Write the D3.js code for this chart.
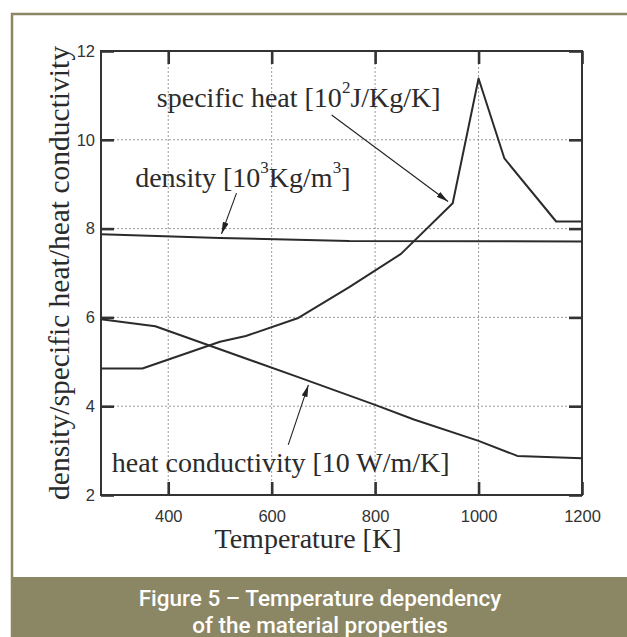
<!DOCTYPE html>
<html>
<head>
<meta charset="utf-8">
<script src="https://cdn.jsdelivr.net/npm/d3@7"></script>
<style>
  body { margin: 0; background: #fff; }
</style>
</head>
<body>
<div id="chart"></div>
<script>
// values
var densityT = [270, 500, 750, 1200];
var densityV = [7.87, 7.79, 7.72, 7.71];

var heatT = [270, 350, 500, 550, 650, 750, 850, 950, 1000, 1050, 1150, 1200];
var heatV = [4.85, 4.85, 5.45, 5.58, 5.98, 6.68, 7.43, 8.57, 11.38, 9.58, 8.16, 8.16];

var condT = [270, 375, 650, 800, 875, 1000, 1075, 1200];
var condV = [5.96, 5.80, 4.66, 4.03, 3.70, 3.22, 2.88, 2.83];

var xTicks = [400, 600, 800, 1000, 1200];
var yTicks = [2, 4, 6, 8, 10, 12];
var xGrid = [400, 600, 800, 1000];
var yGrid = [4, 6, 8, 10];

var captionLines = ["Figure 5 \u2013 Temperature dependency", "of the material properties"];

// label text pieces: [text, isSuperscript]
var labelSpecific = [["specific heat [10", 0], ["2", 1], ["J/Kg/K]", 0]];
var labelDensity = [["density [10", 0], ["3", 1], ["Kg/m", 0], ["3", 1], ["]", 0]];
var labelCond = [["heat conductivity [10 W/m/K]", 0]];

// label anchor and arrow (tail -> tip) in data units
var annotations = [
  {parts: labelSpecific, at: [378, 10.74], from: [716, 10.56], to: [941, 8.61]},
  {parts: labelDensity, at: [336, 8.94], from: [532, 8.80], to: [503, 7.88]},
  {parts: labelCond, at: [291, 2.51], from: [632, 3.13], to: [671, 4.48]}
];

var width = 627, height = 637;
var plotLeft = 101, plotRight = 582, plotTop = 51, plotBottom = 495;
var ink = "#333";
var serif = "'Liberation Serif', 'Times New Roman', serif";

var svg = d3.select("#chart")
    .append("svg")
    .attr("width", width)
    .attr("height", height);

var x = d3.scaleLinear().domain([270, 1200]).range([plotLeft, plotRight]);
var y = d3.scaleLinear().domain([2, 12]).range([plotBottom, plotTop]);

// page frame and caption band
svg.append("path")
    .attr("d", "M12," + height + "V14H" + width)
    .attr("fill", "none")
    .attr("stroke", "#8b8663")
    .attr("stroke-width", 2.5);

svg.append("rect")
    .attr("x", 11).attr("y", 577)
    .attr("width", width - 11).attr("height", height - 577)
    .attr("fill", "#8b8663");

svg.selectAll(".caption")
    .data(captionLines)
    .enter()
    .append("text")
    .attr("class", "caption")
    .attr("x", 320)
    .attr("y", function(d, i) { return 606 + i * 27; })
    .attr("text-anchor", "middle")
    .attr("font-family", "Roboto, sans-serif")
    .attr("font-weight", 500)
    .attr("font-size", 22.5)
    .attr("fill", "#fff")
    .text(function(d) { return d; });

// grid
var grid = svg.append("g")
    .attr("stroke", "#9a9a9a")
    .attr("stroke-width", 1)
    .attr("stroke-dasharray", "2,2");

grid.selectAll(".vg")
    .data(xGrid)
    .enter()
    .append("line")
    .attr("x1", function(d) { return x(d); })
    .attr("x2", function(d) { return x(d); })
    .attr("y1", plotTop).attr("y2", plotBottom);

grid.selectAll(".hg")
    .data(yGrid)
    .enter()
    .append("line")
    .attr("y1", function(d) { return y(d); })
    .attr("y2", function(d) { return y(d); })
    .attr("x1", plotLeft).attr("x2", plotRight);

// axes on all four sides, ticks pointing inward
function styleAxis(g) {
  g.select(".domain").remove();
  g.selectAll(".tick line").attr("stroke", ink).attr("stroke-width", 2.6);
  g.selectAll(".tick text")
      .attr("fill", ink)
      .attr("font-family", "'Liberation Sans', Arial, sans-serif")
      .attr("font-size", 16.5);
}

svg.append("g")
    .attr("transform", "translate(0," + plotBottom + ")")
    .call(d3.axisBottom(x).tickValues(xTicks).tickFormat(d3.format("d"))
        .tickSizeInner(-13).tickPadding(15))
    .call(styleAxis);

svg.append("g")
    .attr("transform", "translate(0," + plotTop + ")")
    .call(d3.axisTop(x).tickValues(xTicks).tickSizeInner(-13).tickFormat(""))
    .call(styleAxis);

svg.append("g")
    .attr("transform", "translate(" + plotLeft + ",0)")
    .call(d3.axisLeft(y).tickValues(yTicks).tickSizeInner(-13).tickPadding(6))
    .call(styleAxis);

svg.append("g")
    .attr("transform", "translate(" + plotRight + ",0)")
    .call(d3.axisRight(y).tickValues(yTicks).tickSizeInner(-13).tickFormat(""))
    .call(styleAxis);

svg.append("rect")
    .attr("x", plotLeft).attr("y", plotTop)
    .attr("width", plotRight - plotLeft).attr("height", plotBottom - plotTop)
    .attr("fill", "none")
    .attr("stroke", ink)
    .attr("stroke-width", 2);

// curves
var line = d3.line()
    .x(function(d) { return x(d[0]); })
    .y(function(d) { return y(d[1]); });

[[densityT, densityV], [heatT, heatV], [condT, condV]].forEach(function(s) {
  svg.append("path")
      .datum(d3.zip(s[0], s[1]))
      .attr("d", line)
      .attr("fill", "none")
      .attr("stroke", "#2b2b2b")
      .attr("stroke-width", 2)
      .attr("stroke-linejoin", "round");
});

// arrows and labels
svg.append("defs").append("marker")
    .attr("id", "head")
    .attr("viewBox", "0 0 12 6")
    .attr("refX", 12).attr("refY", 3)
    .attr("markerWidth", 12).attr("markerHeight", 6)
    .attr("markerUnits", "userSpaceOnUse")
    .attr("orient", "auto")
    .append("path")
    .attr("d", "M0,0L12,3L0,6z")
    .attr("fill", "#222");

annotations.forEach(function(a) {
  svg.append("line")
      .attr("x1", x(a.from[0])).attr("y1", y(a.from[1]))
      .attr("x2", x(a.to[0])).attr("y2", y(a.to[1]))
      .attr("stroke", "#222")
      .attr("stroke-width", 1.1)
      .attr("marker-end", "url(#head)");

  var t = svg.append("text")
      .attr("x", x(a.at[0]))
      .attr("y", y(a.at[1]))
      .attr("font-family", serif)
      .attr("font-size", 28)
      .attr("fill", "#2b2b2b");
  a.parts.forEach(function(p, i) {
    var s = t.append("tspan").text(p[0]);
    if (p[1]) s.attr("font-size", 17).attr("dy", -14);
    else if (i > 0) s.attr("dy", 14);
  });
});

// axis titles
svg.append("text")
    .attr("x", 308)
    .attr("y", 548)
    .attr("text-anchor", "middle")
    .attr("font-family", serif)
    .attr("font-size", 28)
    .attr("fill", "#2b2b2b")
    .text("Temperature [K]");

svg.append("text")
    .attr("transform", "translate(69," + (plotTop + plotBottom) / 2 + ") rotate(-90)")
    .attr("text-anchor", "middle")
    .attr("font-family", serif)
    .attr("font-size", 29.5)
    .attr("fill", "#2b2b2b")
    .text("density/specific heat/heat conductivity");
</script>
</body>
</html>
